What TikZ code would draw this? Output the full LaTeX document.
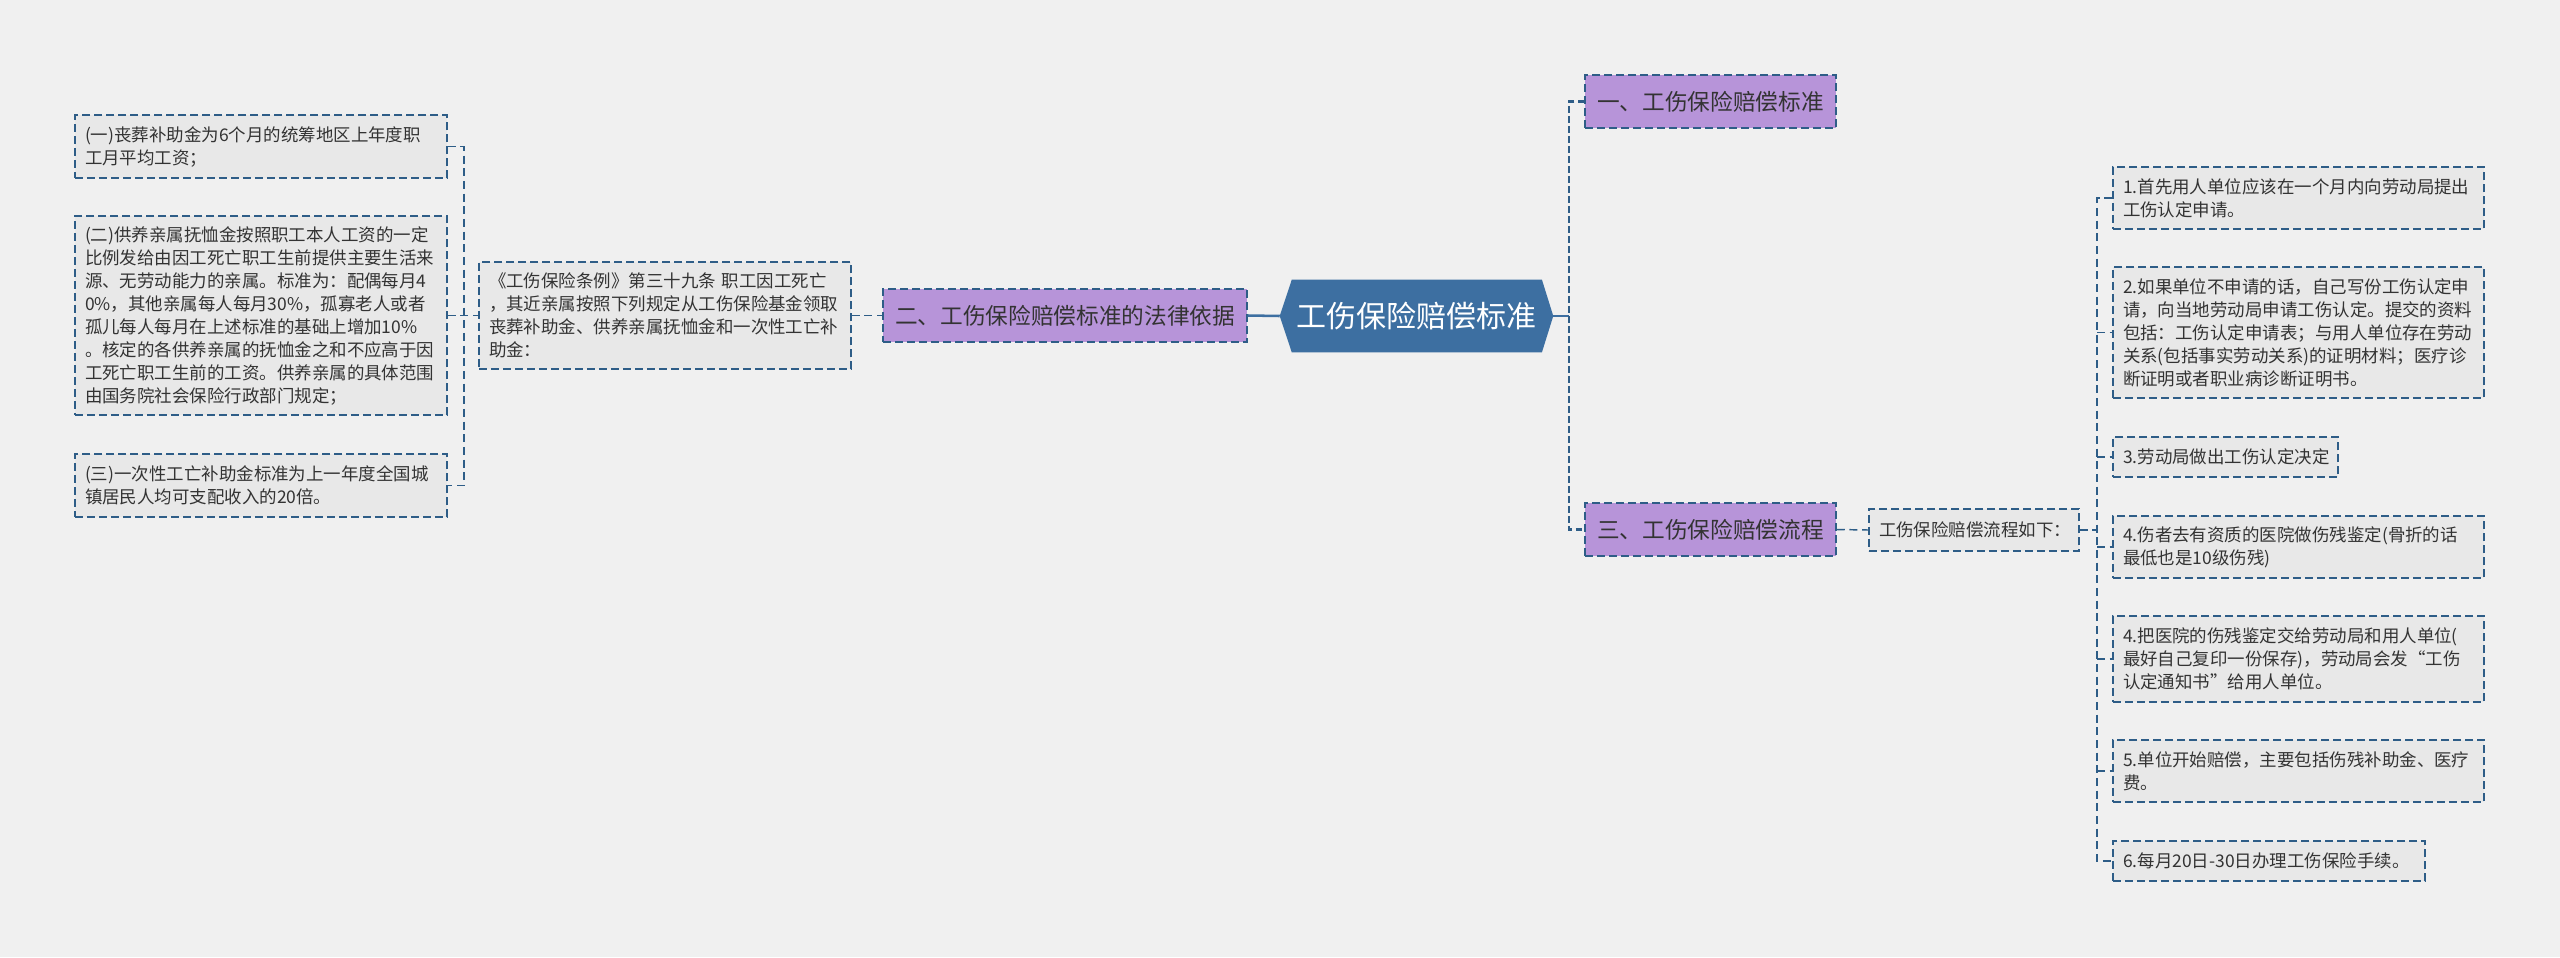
\documentclass[tikz,border=0pt]{standalone}
\usepackage{fontspec}
\setmainfont{Noto Sans CJK SC}
\definecolor{bgcol}{HTML}{F0F0F0}
\definecolor{lineblue}{HTML}{2E5D87}
\definecolor{rootblue}{HTML}{3D6FA1}
\definecolor{purp}{HTML}{B794D9}
\definecolor{leaffill}{HTML}{E8E8E8}
\definecolor{textcol}{HTML}{333333}
\begin{document}
\begin{tikzpicture}[x=0.75pt,y=-0.75pt,
  leaf/.style={draw=lineblue, line width=1.1pt, dash pattern=on 6pt off 3pt, fill=leaffill,
    inner xsep=7.5pt, inner ysep=0pt, align=left, text=textcol,
    font=\fontsize{13.1pt}{17.25pt}\selectfont},
  cat/.style={draw=lineblue, line width=1.1pt, dash pattern=on 6pt off 3pt, fill=purp,
    inner sep=0pt, text=textcol, minimum height=39.75pt,
    font=\fontsize{17pt}{20pt}\selectfont},
  rootbox/.style={inner sep=0pt, minimum width=204.75pt, minimum height=54pt},
  roottext/.style={inner sep=0pt, text=white, font=\fontsize{22.5pt}{26pt}\selectfont},
  link/.style={draw=lineblue, line width=1.1pt, dash pattern=on 6pt off 3.5pt},
  trunk/.style={draw=lineblue, line width=2pt, dash pattern=on 5pt off 2.5pt},
  solidlink/.style={draw=rootblue, line width=1.9pt}
]
\useasboundingbox (0,0) rectangle (2560,957);
\fill[bgcol] (0,0) rectangle (2560,957);

% left leaves
\node[leaf, text width=264pt, minimum height=47.25pt] (L1) at (261,146.5)
 {(一)丧葬补助金为6个月的统筹地区上年度职\\工月平均工资；};
\node[leaf, text width=264pt, minimum height=149.25pt] (L2) at (261,315.5)
 {(二)供养亲属抚恤金按照职工本人工资的一定\\比例发给由因工死亡职工生前提供主要生活来\\源、无劳动能力的亲属。标准为：配偶每月4\\0\%，其他亲属每人每月30\%，孤寡老人或者\\孤儿每人每月在上述标准的基础上增加10\%\\。核定的各供养亲属的抚恤金之和不应高于因\\工死亡职工生前的工资。供养亲属的具体范围\\由国务院社会保险行政部门规定；};
\node[leaf, text width=264pt, minimum height=47.25pt] (L3) at (261,485.5)
 {(三)一次性工亡补助金标准为上一年度全国城\\镇居民人均可支配收入的20倍。};
\node[leaf, text width=264pt, minimum height=80.25pt] (M) at (665,315.5)
 {《工伤保险条例》第三十九条 职工因工死亡\\，其近亲属按照下列规定从工伤保险基金领取\\丧葬补助金、供养亲属抚恤金和一次性工亡补\\助金：};

% categories
\node[cat, minimum width=273pt] (P2) at (1065,315.5) {二、工伤保险赔偿标准的法律依据};
\node[cat, minimum width=188.25pt] (P1) at (1710.5,101.5) {一、工伤保险赔偿标准};
\node[cat, minimum width=188.25pt] (P3) at (1710.5,529.5) {三、工伤保险赔偿流程};

% root
\node[rootbox] (root) at (1416.5,316) {};
\fill[rootblue] (root.west) -- ([xshift=9pt]root.north west) -- ([xshift=-8.5pt]root.north east)
  -- (root.east) -- ([xshift=-8.5pt]root.south east) -- ([xshift=9pt]root.south west) -- cycle;
\node[roottext] (roottxt) at (root.center) {工伤保险赔偿标准};

% intermediate
\node[leaf, text width=142.5pt, minimum height=31.5pt] (I) at (1974,530) {工伤保险赔偿流程如下：};

% right leaves
\node[leaf, text width=263.25pt, minimum height=46.5pt] (R1) at (2298.5,198)
 {1.首先用人单位应该在一个月内向劳动局提出\\工伤认定申请。};
\node[leaf, text width=263.25pt, minimum height=98.25pt] (R2) at (2298.5,332.5)
 {2.如果单位不申请的话，自己写份工伤认定申\\请，向当地劳动局申请工伤认定。提交的资料\\包括：工伤认定申请表；与用人单位存在劳动\\关系(包括事实劳动关系)的证明材料；医疗诊\\断证明或者职业病诊断证明书。};
\node[leaf, text width=153.75pt, minimum height=30pt] (R3) at (2225.5,457)
 {3.劳动局做出工伤认定决定};
\node[leaf, text width=263.25pt, minimum height=46.5pt] (R4) at (2298.5,547)
 {4.伤者去有资质的医院做伤残鉴定(骨折的话\\最低也是10级伤残)};
\node[leaf, text width=263.25pt, minimum height=64.5pt] (R5) at (2298.5,659)
 {4.把医院的伤残鉴定交给劳动局和用人单位(\\最好自己复印一份保存)，劳动局会发“工伤\\认定通知书”给用人单位。};
\node[leaf, text width=263.25pt, minimum height=46.5pt] (R6) at (2298.5,771)
 {5.单位开始赔偿，主要包括伤残补助金、医疗\\费。};
\node[leaf, text width=219pt, minimum height=30pt] (R7) at (2269,861)
 {6.每月20日-30日办理工伤保险手续。};

% connectors
\coordinate (lj) at (464,316);
\draw[link] (L1.east) -- (L1.east -| lj) -- (L3.east -| lj) -- (L3.east);
\draw[link] (L2.east) -- (M.west);
\draw[link] (M.east) -- (P2.west);
\draw[solidlink] (P2.east) -- (root.west);
\coordinate (rj) at (1569,316);
\draw[solidlink] (root.east) -- (rj);
\draw[trunk] (P1.west) -- (P1.west -| rj) -- (P3.west -| rj) -- (P3.west);
\draw[link] (P3.east) -- (I.west);
\coordinate (ij) at (2097,530);
\draw[link] (I.east) -- (ij);
\draw[link] (R1.west) -- (R1.west -| ij) -- (R7.west -| ij) -- (R7.west);
\foreach \r in {R2,R3,R4,R5,R6} {\draw[link] (\r.west -| ij) -- (\r.west);}
\end{tikzpicture}
\end{document}
